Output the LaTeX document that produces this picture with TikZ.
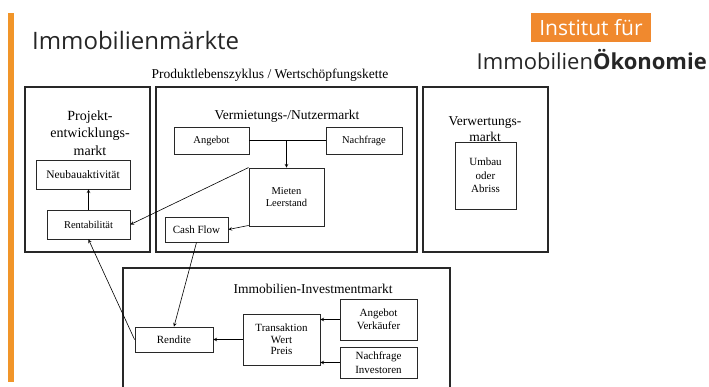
\documentclass[tikz,border=0pt]{standalone}
\usepackage{fontspec}
\setmainfont{Liberation Serif}
\newfontfamily\headfont{Open Sans}
\usepackage{xcolor}
\definecolor{ifiorange}{RGB}{240,137,46}
\definecolor{framegray}{RGB}{40,40,40}

\begin{document}
\begin{tikzpicture}[
  x=1pt, y=-1pt,
  market/.style={
    draw=framegray, line width=1.1pt, inner sep=0pt
  },
  item/.style={
    draw=framegray, line width=0.9pt, inner sep=0pt, align=center,
    font=\fontsize{10.5}{12.5}\selectfont
  },
  heading/.style={
    align=center, inner sep=0pt, font=\fontsize{13.5}{16.5}\selectfont
  },
  arr/.style={
    ->, >=stealth, color=black, line width=0.6pt
  },
  link/.style={
    color=black, line width=0.6pt
  }
]
\useasboundingbox (0,0) rectangle (709,387);

% Header
\fill[ifiorange!90!yellow] (8,13) rectangle (14,382);
\node[anchor=base west, inner sep=0pt, text=black!85, font=\headfont\fontsize{24}{28}\selectfont]
  (title) at (32,50) {Immobilienmärkte};
\node[fill=ifiorange, text=white, inner sep=0pt, minimum width=120, minimum height=29,
  font=\headfont\fontsize{21}{24}\selectfont] (inst) at (591,27.5) {Institut für};
\node[anchor=base east, inner sep=0pt, text=black!85, font=\headfont\fontsize{22}{26}\selectfont]
  (ifi) at (707,70) {Immobilien\textbf{Ökonomie}};
\node[heading] (chain) at (270,75) {Produktlebenszyklus / Wertschöpfungskette};

% Markets
\node[market, minimum width=125, minimum height=165] (proj) at (87.5,169.5) {};
\node[market, minimum width=261, minimum height=165] (verm) at (286.5,169.5) {};
\node[market, minimum width=125, minimum height=165] (verw) at (485.5,169.5) {};
\node[market, minimum width=327, minimum height=124] (inv) at (286.5,330) {};

\node[heading, font=\fontsize{14}{17.5}\selectfont] (projlbl) at (90,133)
  {Projekt-\\entwicklungs-\\markt};
\node[heading] (vermlbl) at (287,116) {Vermietungs-/Nutzermarkt};
\node[heading, font=\fontsize{13.5}{16}\selectfont] (verwlbl) at (485,129) {Verwertungs-\\markt};
\node[heading] (invlbl) at (313,289) {Immobilien-Investmentmarkt};

% Project development
\node[item, minimum width=94, minimum height=29, font=\fontsize{11.5}{13}\selectfont]
  (neubau) at (83,174.5) {Neubauaktivität};
\node[item, minimum width=83, minimum height=29] (rent) at (88.5,224.5) {Rentabilität};

% Letting / user market
\node[item, minimum width=75, minimum height=27] (ang) at (211.5,140.5) {Angebot};
\node[item, minimum width=76, minimum height=27] (nach) at (364,140.5) {Nachfrage};
\node[item, minimum width=75, minimum height=58] (mieten) at (286.5,197) {Mieten\\Leerstand};
\node[item, minimum width=63, minimum height=25, font=\fontsize{11}{13}\selectfont]
  (cf) at (196.5,229.5) {Cash Flow};

% Exploitation
\node[item, minimum width=61, minimum height=67, font=\fontsize{11}{13.5}\selectfont]
  (umbau) at (485.5,175.5) {Umbau\\oder\\Abriss};

% Investment market
\node[item, minimum width=78, minimum height=25, font=\fontsize{11}{13}\selectfont]
  (rendite) at (174,339.5) {Rendite};
\node[item, minimum width=77, minimum height=51, font=\fontsize{11}{11.7}\selectfont]
  (trans) at (281.5,339.5) {Transaktion\\Wert\\Preis};
\node[item, minimum width=77, minimum height=41, font=\fontsize{11}{13.5}\selectfont]
  (angv) at (378.5,319.5) {Angebot\\Verkäufer};
\node[item, minimum width=77, minimum height=31, font=\fontsize{11}{13.5}\selectfont]
  (nachi) at (378.5,362.5) {Nachfrage\\Investoren};

% Connectors
\draw[link] (ang.east) -- (nach.west);
\draw[arr] (mieten.north |- ang.east) -- (mieten.north);
\draw[arr] (mieten.north west) -- (rent.east);
\draw[arr] ([yshift=1pt]mieten.south west) -- (cf.east);
\draw[arr] (rent.north) -- (rent.north |- neubau.south);
\draw[arr] (cf.south) -- (rendite.north);
\draw[arr] (rendite.west) -- (rent.south);
\draw[arr] (angv.west) -- (trans.east |- angv.west);
\draw[arr] (nachi.west) -- (trans.east |- nachi.west);
\draw[arr] (trans.west) -- (rendite.east);

\end{tikzpicture}
\end{document}
